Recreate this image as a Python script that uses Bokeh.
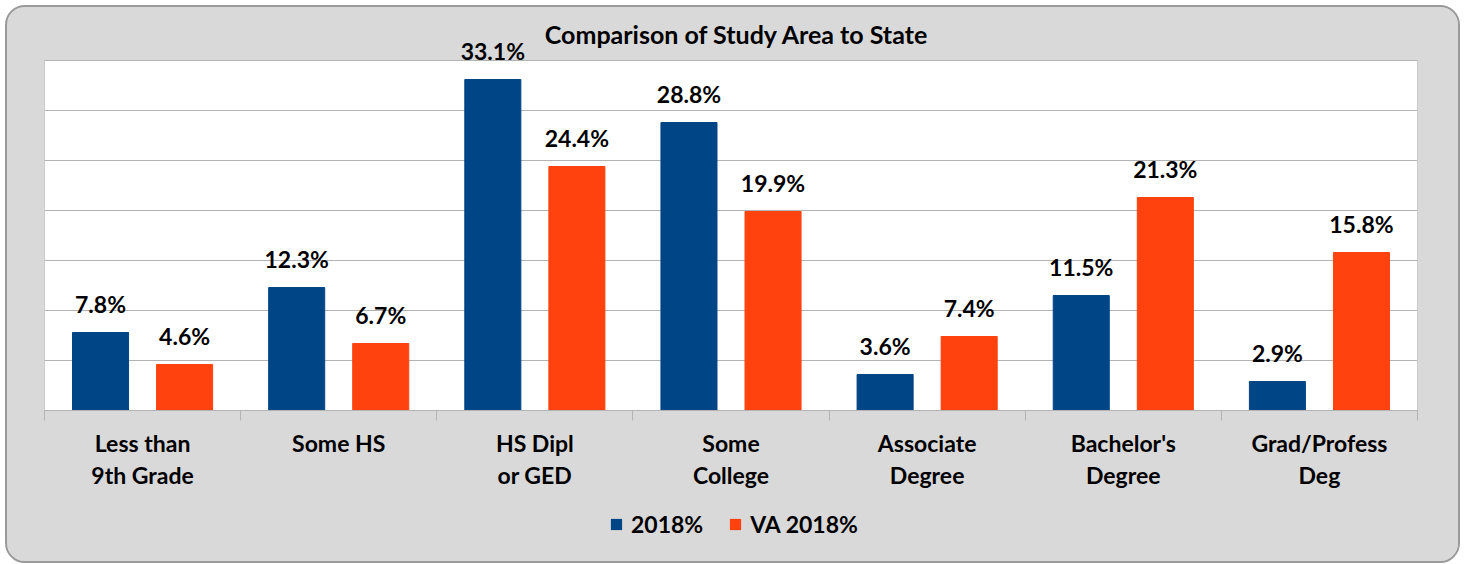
from bokeh.plotting import figure
from bokeh.layouts import column
from bokeh.models import (ColumnDataSource, Range1d, FixedTicker, LabelSet, Label,
                          Legend, LegendItem)
from bokeh.core.properties import value
from bokeh.embed import file_html
from bokeh.resources import INLINE

# ---- data ----
categories = ["Less than\n9th Grade", "Some HS", "HS Dipl\nor GED", "Some\nCollege",
              "Associate\nDegree", "Bachelor's\nDegree", "Grad/Profess\nDeg"]
series_names = ["2018%", "VA 2018%"]
study_2018 = [7.8, 12.3, 33.1, 28.8, 3.6, 11.5, 2.9]
va_2018 = [4.6, 6.7, 24.4, 19.9, 7.4, 21.3, 15.8]
y_ticks = [0, 5, 10, 15, 20, 25, 30, 35]
chart_title = "Comparison of Study Area to State"

BLUE = "#004586"
ORANGE = "#FF420E"
FONT = "Lato"
GRID = "#b3b3b3"
BG = "#d9d9d9"
FS = "23px"

n = len(categories)
idx = list(range(n))
bw = 2 / 7
x_blue = [i + 2 / 7 for i in idx]
x_orange = [i + 5 / 7 for i in idx]
y_top = y_ticks[-1]

src_blue = ColumnDataSource(dict(x=x_blue, top=study_2018,
                                 lbl=[f"{v:.1f}%" for v in study_2018]))
src_orange = ColumnDataSource(dict(x=x_orange, top=va_2018,
                                   lbl=[f"{v:.1f}%" for v in va_2018]))

p = figure(frame_width=1373, frame_height=390, output_backend="svg",
           toolbar_location=None,
           x_range=Range1d(0, n), y_range=Range1d(0, y_top + 4),
           min_border_left=37, min_border_right=41, min_border_top=13,
           min_border_bottom=100, background_fill_color=BG,
           border_fill_color=BG)

# white plot area
p.quad(left=[0], right=[n], bottom=[0], top=[y_top], fill_color="white",
       line_color=GRID, line_width=1)
# horizontal gridlines
p.hspan(y=y_ticks[1:], line_color=GRID, line_width=1)

r1 = p.vbar(x="x", top="top", width=bw, source=src_blue, fill_color=BLUE,
            line_color=BLUE)
r2 = p.vbar(x="x", top="top", width=bw, source=src_orange, fill_color=ORANGE,
            line_color=ORANGE)

p.yaxis.visible = False
p.xgrid.visible = False
p.ygrid.visible = False
p.outline_line_color = None

xa = p.xaxis[0]
xa.ticker = FixedTicker(ticks=[i + 0.5 for i in idx], minor_ticks=list(range(n + 1)))
xa.major_label_overrides = {i + 0.5: c for i, c in enumerate(categories)}
xa.major_tick_out = 0
xa.major_tick_in = 0
xa.minor_tick_out = 10
xa.minor_tick_in = 0
xa.minor_tick_line_color = GRID
xa.axis_line_color = GRID
xa.major_label_text_font = FONT
xa.major_label_text_font_style = "bold"
xa.major_label_text_font_size = FS
xa.major_label_text_color = "black"
xa.major_label_text_line_height = 1.15
xa.major_label_standoff = 8

for src in (src_blue, src_orange):
    ls = LabelSet(x="x", y="top", text="lbl", source=src, text_align="center",
                  text_baseline="alphabetic", y_offset=20, text_font=value(FONT),
                  text_font_style="bold", text_font_size=FS, text_color="black")
    p.add_layout(ls)

title = Label(x=n / 2, y=y_top, x_offset=6, y_offset=27, text=chart_title,
              text_align="center", text_baseline="alphabetic", text_font=FONT,
              text_font_style="bold", text_font_size="25px", text_color="black")
p.add_layout(title)

# legend strip below the chart (its swatches reuse the series colours)
lg = figure(width=1451, height=51, output_backend="svg", toolbar_location=None,
            x_axis_type=None, y_axis_type=None, x_range=Range1d(0, 1),
            y_range=Range1d(0, 1), min_border=0, background_fill_color=BG,
            border_fill_color=BG, outline_line_color=None)
g1 = lg.vbar(x=[0.5], top=[0], bottom=[0], width=0.0, fill_color=BLUE,
             line_color=None)
g2 = lg.vbar(x=[0.5], top=[0], bottom=[0], width=0.0, fill_color=ORANGE,
             line_color=None)
legend = Legend(items=[LegendItem(label=series_names[0], renderers=[g1]),
                       LegendItem(label=series_names[1], renderers=[g2])],
                orientation="horizontal", location=(565, 23),
                background_fill_alpha=0, border_line_color=None,
                label_text_font=FONT, label_text_font_style="bold",
                label_text_font_size=FS, label_text_color="black",
                glyph_width=14, glyph_height=14,
                label_standoff=8, spacing=25, padding=0, margin=0)
lg.add_layout(legend, "center")

layout = column(p, lg, spacing=0, margin=(5, 0, 0, 5),
                styles={"border": "2px solid #9a9a9a", "border-radius": "20px",
                        "overflow": "hidden", "background-color": BG})

open("out.html", "w").write(file_html(layout, INLINE))
